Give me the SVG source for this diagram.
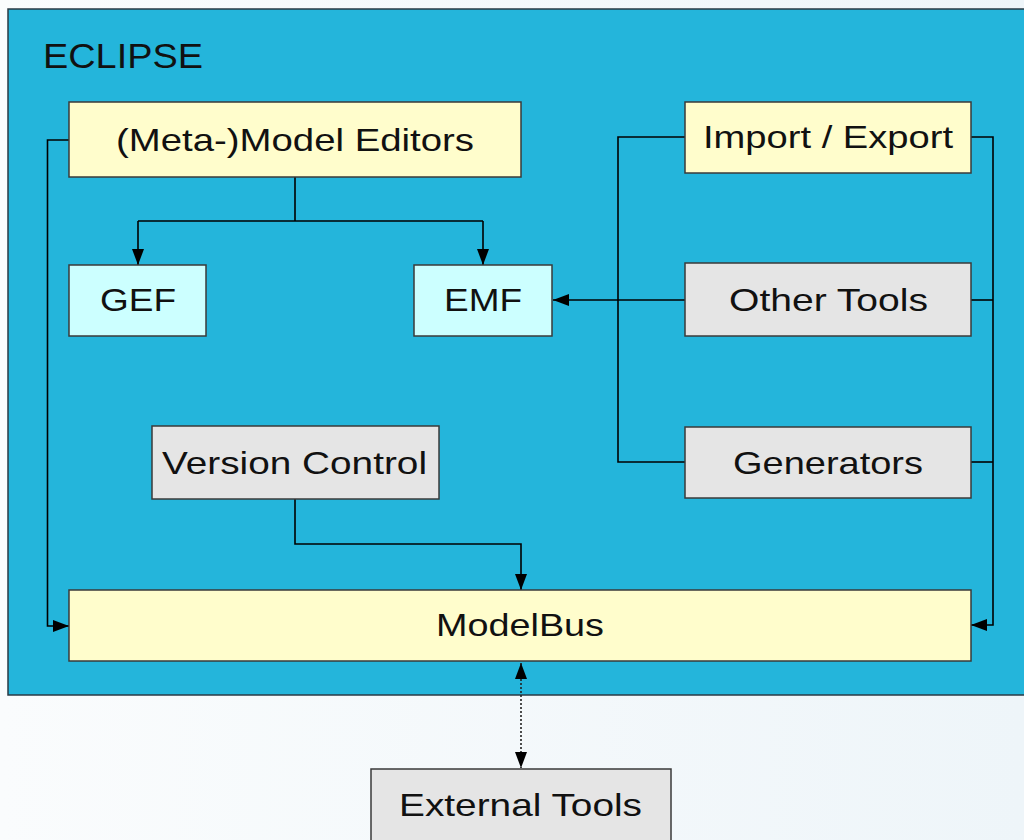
<svg xmlns="http://www.w3.org/2000/svg" width="1024" height="840" viewBox="0 0 1024 840">
  <defs>
    <linearGradient id="bg" x1="0" y1="0" x2="1" y2="0">
      <stop offset="0" stop-color="#fafcfd"/>
      <stop offset="1" stop-color="#eef5f9"/>
    </linearGradient>
    <marker id="arr" viewBox="0 0 16 12" refX="16" refY="6" markerWidth="16" markerHeight="12" markerUnits="userSpaceOnUse" orient="auto">
      <path d="M0,0 L16,6 L0,12 Z" fill="#000"/>
    </marker>
    <marker id="arrs" viewBox="0 0 16 12" refX="0" refY="6" markerWidth="16" markerHeight="12" markerUnits="userSpaceOnUse" orient="auto">
      <path d="M16,0 L0,6 L16,12 Z" fill="#000"/>
    </marker>
  </defs>
  <style>
    .box { stroke: #3a3a3a; stroke-width: 1.5; }
    .yellow { fill: #fffdcc; }
    .cyan { fill: #ccffff; }
    .gray { fill: #e5e5e5; }
    .shadow { fill: #000; opacity: 0.18; }
    .lbl { font-family: "Liberation Sans", Arial, sans-serif; font-size: 32px; fill: #111; }
    .conn { fill: none; stroke: #000; stroke-width: 1.6; }
    .dot { fill: none; stroke: #222; stroke-width: 1.6; stroke-dasharray: 2 2; }
  </style>

  <rect x="0" y="0" width="1024" height="840" fill="url(#bg)"/>

  <g id="eclipse">
    <rect x="8" y="9" width="1030" height="686" fill="#24b5db" stroke="#2a3a44" stroke-width="1.5"/>
    <text class="lbl" x="43" y="68" font-size="35" textLength="160" lengthAdjust="spacingAndGlyphs" style="font-size:35px">ECLIPSE</text>
  </g>

  <g id="connectors">
    <!-- Meta editors to GEF / EMF -->
    <path class="conn" d="M295,177 V221"/>
    <path class="conn" d="M138,221 H483"/>
    <path class="conn" d="M138,221 V265" marker-end="url(#arr)"/>
    <path class="conn" d="M483,221 V265" marker-end="url(#arr)"/>
    <!-- Meta editors to ModelBus (left) -->
    <path class="conn" d="M69,140 H47.5 V626 H69" marker-end="url(#arr)"/>
    <!-- Left bus: Import/Export, Other Tools, Generators -->
    <path class="conn" d="M685,137 H618 V462 H685"/>
    <path class="conn" d="M685,300 H553" marker-end="url(#arr)"/>
    <!-- Right bus to ModelBus -->
    <path class="conn" d="M971,137 H993 V625 H971" marker-end="url(#arr)"/>
    <path class="conn" d="M971,300 H993"/>
    <path class="conn" d="M971,462 H993"/>
    <!-- Version control to ModelBus -->
    <path class="conn" d="M295,499 V544 H521 V590" marker-end="url(#arr)"/>
    <!-- ModelBus <-> External Tools -->
    <path class="dot" d="M521,663 V768" marker-start="url(#arrs)" marker-end="url(#arr)"/>
  </g>

  <g id="meta-model-editors">
    <rect class="box yellow" x="69" y="102" width="452" height="75"/>
    <text class="lbl" x="116" y="151" textLength="358" lengthAdjust="spacingAndGlyphs">(Meta-)Model Editors</text>
  </g>

  <g id="gef">
    <rect class="box cyan" x="69" y="265" width="137" height="71"/>
    <text class="lbl" x="100" y="311" textLength="76" lengthAdjust="spacingAndGlyphs">GEF</text>
  </g>

  <g id="emf">
    <rect class="box cyan" x="414" y="265" width="138" height="71"/>
    <text class="lbl" x="444" y="311" textLength="78" lengthAdjust="spacingAndGlyphs">EMF</text>
  </g>

  <g id="import-export">
    <rect class="box yellow" x="685" y="102" width="286" height="71"/>
    <text class="lbl" x="703" y="148" textLength="250" lengthAdjust="spacingAndGlyphs">Import / Export</text>
  </g>

  <g id="other-tools">
    <rect class="box gray" x="685" y="263" width="286" height="73"/>
    <text class="lbl" x="729" y="311" textLength="199" lengthAdjust="spacingAndGlyphs">Other Tools</text>
  </g>

  <g id="generators">
    <rect class="box gray" x="685" y="427" width="286" height="71"/>
    <text class="lbl" x="733" y="474" textLength="190" lengthAdjust="spacingAndGlyphs">Generators</text>
  </g>

  <g id="version-control">
    <rect class="box gray" x="152" y="426" width="287" height="73"/>
    <text class="lbl" x="162" y="474" textLength="265" lengthAdjust="spacingAndGlyphs">Version Control</text>
  </g>

  <g id="modelbus">
    <rect class="box yellow" x="69" y="590" width="902" height="71"/>
    <text class="lbl" x="436" y="636" textLength="168" lengthAdjust="spacingAndGlyphs">ModelBus</text>
  </g>

  <g id="external-tools">
    <rect class="box gray" x="371" y="769" width="300" height="80"/>
    <text class="lbl" x="399" y="816" textLength="243" lengthAdjust="spacingAndGlyphs">External Tools</text>
  </g>
</svg>
